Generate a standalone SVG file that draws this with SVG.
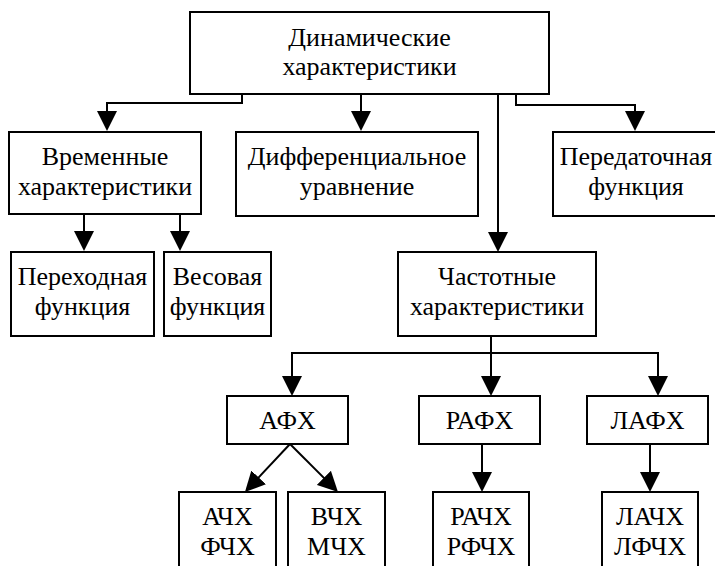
<svg xmlns="http://www.w3.org/2000/svg" width="715" height="566" viewBox="0 0 715 566">
<style>
.box{fill:#fff;stroke:#000;stroke-width:2}
.c{fill:none;stroke:#000;stroke-width:2}
text{font-family:'Liberation Serif',serif;font-size:26px;fill:#000;text-anchor:middle}
</style>
<defs>
<marker id="ah" viewBox="0 0 20 20" refX="10" refY="10" markerWidth="20" markerHeight="20" markerUnits="userSpaceOnUse" orient="auto">
<path d="M0,0 L20,10 L0,20 z" fill="#000"/>
</marker>
</defs>
<rect width="715" height="566" fill="#fff"/>
<g id="connectors">
<path class="c" d="M242,94 V103 H107 V121" marker-end="url(#ah)"/>
<path class="c" d="M361,94 V121" marker-end="url(#ah)"/>
<path class="c" d="M498,94 V242" marker-end="url(#ah)"/>
<path class="c" d="M516,94 V105 H635 V121" marker-end="url(#ah)"/>
<path class="c" d="M84,214 V241" marker-end="url(#ah)"/>
<path class="c" d="M180,214 V241" marker-end="url(#ah)"/>
<path class="c" d="M491,336 V386" marker-end="url(#ah)"/>
<path class="c" d="M292,353 H658 V386" marker-end="url(#ah)"/>
<path class="c" d="M292,352 V386" marker-end="url(#ah)"/>
<path class="c" d="M290,444 L251.8,484.7" marker-end="url(#ah)"/>
<path class="c" d="M290,444 L330.9,484.9" marker-end="url(#ah)"/>
<path class="c" d="M482,444 V482" marker-end="url(#ah)"/>
<path class="c" d="M650,444 V482" marker-end="url(#ah)"/>
</g>
<g id="dyn"><rect class="box" x="190" y="12" width="359" height="82"/><text x="369.5" y="46">Динамические</text><text x="369.5" y="75">характеристики</text></g>
<g id="time"><rect class="box" x="9" y="132" width="192" height="82"/><text x="105" y="165">Временные</text><text x="105" y="195">характеристики</text></g>
<g id="diff"><rect class="box" x="236" y="132" width="242" height="84"/><text x="357" y="165">Дифференциальное</text><text x="357" y="195">уравнение</text></g>
<g id="transfer"><rect class="box" x="553" y="132" width="170" height="84"/><text x="636" y="165">Передаточная</text><text x="636" y="195">функция</text></g>
<g id="step"><rect class="box" x="11" y="252" width="143" height="84"/><text x="82.5" y="285">Переходная</text><text x="82.5" y="315">функция</text></g>
<g id="weight"><rect class="box" x="164" y="252" width="107" height="84"/><text x="217.5" y="285">Весовая</text><text x="217.5" y="315">функция</text></g>
<g id="freq"><rect class="box" x="398" y="252" width="198" height="84"/><text x="497" y="285">Частотные</text><text x="497" y="315">характеристики</text></g>
<g id="afh"><rect class="box" x="227" y="396" width="121" height="48"/><text x="287.5" y="429">АФХ</text></g>
<g id="rafh"><rect class="box" x="419" y="396" width="121" height="48"/><text x="479.5" y="429">РАФХ</text></g>
<g id="lafh"><rect class="box" x="587" y="396" width="121" height="48"/><text x="647.5" y="429">ЛАФХ</text></g>
<g id="ach"><rect class="box" x="179" y="492" width="97" height="90"/><text x="227.5" y="525">АЧХ</text><text x="227.5" y="555">ФЧХ</text></g>
<g id="vch"><rect class="box" x="288" y="492" width="97" height="90"/><text x="336.5" y="525">ВЧХ</text><text x="336.5" y="555">МЧХ</text></g>
<g id="rach"><rect class="box" x="433" y="492" width="96" height="90"/><text x="481" y="525">РАЧХ</text><text x="481" y="555">РФЧХ</text></g>
<g id="lach"><rect class="box" x="602" y="492" width="96" height="90"/><text x="650" y="525">ЛАЧХ</text><text x="650" y="555">ЛФЧХ</text></g>
</svg>
